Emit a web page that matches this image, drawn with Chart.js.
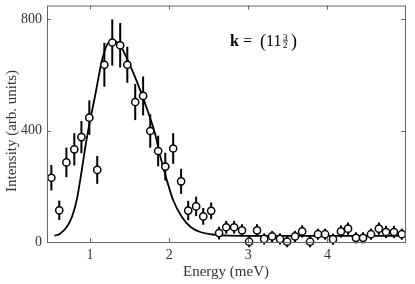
<!DOCTYPE html>
<html>
<head>
<meta charset="utf-8">
<script src="https://cdn.jsdelivr.net/npm/chart.js@4/dist/chart.umd.min.js"></script>
<style>
  html, body { margin: 0; padding: 0; background: #fff; }
  #wrap { width: 415px; height: 284px; }
</style>
</head>
<body>
<div id="wrap"><canvas id="chart" width="415" height="284"></canvas></div>
<script>
// ── 측정점 (에너지, 강도, 오차) ─────────────────────────────
const ENERGY = [0.51, 0.61, 0.70, 0.80, 0.89, 0.99, 1.09, 1.18, 1.28, 1.38,
  1.47, 1.57, 1.67, 1.76, 1.86, 1.95, 2.05, 2.15, 2.24, 2.34,
  2.43, 2.53, 2.63, 2.72, 2.82, 2.92, 3.01, 3.11, 3.20, 3.30,
  3.40, 3.49, 3.59, 3.68, 3.78, 3.88, 3.97, 4.07, 4.17, 4.26,
  4.36, 4.45, 4.55, 4.65, 4.74, 4.84, 4.94];
const INTENSITY = [231, 114, 286, 333, 377, 447, 259, 637, 717, 707,
  637, 503, 525, 399, 327, 271, 336, 218, 113, 128,
  92, 112, 32, 53, 53, 42, 1, 42, 11, 20,
  11, 1, 20, 38, 1, 28, 28, 10, 38, 48,
  15, 15, 28, 48, 36, 36, 28];
const ERROR = [46, 35, 53, 58, 58, 62, 50, 79, 83, 80,
  65, 65, 70, 60, 55, 50, 55, 45, 35, 35,
  30, 30, 23, 23, 23, 22, 20, 22, 20, 20,
  20, 20, 20, 22, 20, 20, 20, 20, 22, 22,
  20, 20, 20, 22, 22, 22, 20];

// ── 피팅 곡선 ──────────────────────────────────────────────
const FIT_E = [0.55, 0.62, 0.70, 0.77, 0.83, 0.89, 0.95, 1.00, 1.06, 1.15,
  1.21, 1.27, 1.33, 1.38, 1.485, 1.61, 1.74, 1.82, 1.89, 1.97,
  2.05, 2.16, 2.27, 2.40, 2.55, 2.75, 3.20, 4.97];
const FIT_I = [22, 30, 52, 90, 150, 250, 360, 437, 521, 653,
  707, 722, 720, 707, 647, 563, 461, 390, 305, 222,
  150, 90, 54, 35, 27, 23, 22, 22];

const X_TICKS = [1, 2, 3, 4];
const Y_TICKS = [0, 400, 800];

const SERIF = '"Liberation Serif", "Times New Roman", serif';
const TEXT = "#333";

// 오차막대: 점 데이터셋 바로 앞에 그림 (곡선 위, 점 아래)
const errorBars = {
  id: "errorBars",
  beforeDatasetDraw(chart, args) {
    if (args.index !== 1) return;
    const { ctx, scales: { x, y } } = chart;
    ctx.save();
    ctx.strokeStyle = "#000";
    ctx.lineWidth = 2;
    ENERGY.forEach((e, i) => {
      const px = x.getPixelForValue(e);
      ctx.beginPath();
      ctx.moveTo(px, y.getPixelForValue(INTENSITY[i] - ERROR[i]));
      ctx.lineTo(px, y.getPixelForValue(INTENSITY[i] + ERROR[i]));
      ctx.stroke();
    });
    ctx.restore();
  },
};

// 테두리 + 안쪽 눈금 (네 변 모두)
const frame = {
  id: "frame",
  afterDraw(chart) {
    const { ctx, chartArea: a, scales: { x, y } } = chart;
    ctx.save();
    ctx.strokeStyle = "#666";
    ctx.lineWidth = 1;
    ctx.strokeRect(a.left + 0.5, a.top + 0.5, a.right - a.left, a.bottom - a.top);
    ctx.beginPath();
    X_TICKS.forEach((v) => {
      const px = Math.round(x.getPixelForValue(v)) + 0.5;
      ctx.moveTo(px, a.bottom); ctx.lineTo(px, a.bottom - 4);
      ctx.moveTo(px, a.top); ctx.lineTo(px, a.top + 4);
    });
    Y_TICKS.forEach((v) => {
      const py = Math.round(y.getPixelForValue(v)) + 0.5;
      ctx.moveTo(a.left, py); ctx.lineTo(a.left + 4, py);
      ctx.moveTo(a.right, py); ctx.lineTo(a.right - 4, py);
    });
    ctx.stroke();
    ctx.restore();
  },
};

// k = (11 3/2) 라벨 + 세로축 제목 (원본처럼 약간 아래쪽)
const label = {
  id: "label",
  afterDraw(chart) {
    const { ctx, chartArea: a } = chart;
    const x0 = a.left + 183, base = a.top + 40;
    ctx.save();
    ctx.fillStyle = "#000";
    ctx.textBaseline = "alphabetic";
    ctx.font = "bold 16px " + SERIF;
    ctx.fillText("k", x0, base);
    ctx.font = "16px " + SERIF;
    ctx.fillText("=", x0 + 13, base);
    ctx.font = "18px " + SERIF;
    ctx.fillText("(", x0 + 30, base + 1);
    ctx.font = "16px " + SERIF;
    ctx.fillText("11", x0 + 36, base);
    ctx.font = "9px " + SERIF;
    ctx.fillText("3", x0 + 53, base - 6);
    ctx.fillText("2", x0 + 53, base + 2);
    ctx.fillRect(x0 + 53, base - 5, 5, 0.8);
    ctx.font = "18px " + SERIF;
    ctx.fillText(")", x0 + 61, base + 1);

    ctx.fillStyle = TEXT;
    ctx.font = "15px " + SERIF;
    ctx.textAlign = "center";
    ctx.textBaseline = "middle";
    ctx.translate(12, 131);
    ctx.rotate(-Math.PI / 2);
    ctx.fillText("Intensity (arb. units)", 0, 0);
    ctx.restore();
  },
};

new Chart(document.getElementById("chart"), {
  data: {
    datasets: [
      {
        type: "line",
        data: FIT_E.map((e, i) => ({ x: e, y: FIT_I[i] })),
        borderColor: "#000",
        borderWidth: 1.8,
        pointRadius: 0,
        cubicInterpolationMode: "monotone",
        fill: false,
        order: 2,
      },
      {
        type: "scatter",
        data: ENERGY.map((e, i) => ({ x: e, y: INTENSITY[i] })),
        pointRadius: 3.6,
        pointBackgroundColor: "#fff",
        pointBorderColor: "#000",
        pointBorderWidth: 1.5,
        clip: false,
        order: 1,
      },
    ],
  },
  options: {
    responsive: false,
    animation: false,
    devicePixelRatio: 1,
    layout: { padding: { top: 5, right: 10, left: 0, bottom: 0 } },
    plugins: { legend: { display: false }, tooltip: { enabled: false } },
    scales: {
      x: {
        type: "linear",
        min: 0.455,
        max: 4.98,
        afterBuildTicks: (s) => { s.ticks = X_TICKS.map((v) => ({ value: v })); },
        afterFit: (s) => { s.height = 42; s.paddingLeft = 0; s.paddingRight = 0; },
        grid: { display: false, drawTicks: false, tickLength: 0 },
        border: { display: false },
        ticks: { color: TEXT, font: { family: SERIF, size: 14 }, padding: 5 },
        title: { display: true, text: "Energy (meV)", color: TEXT,
          font: { family: SERIF, size: 15 }, padding: { top: 0, bottom: 3 } },
      },
      y: {
        type: "linear",
        min: 0,
        max: 850,
        afterBuildTicks: (s) => { s.ticks = Y_TICKS.map((v) => ({ value: v })); },
        afterFit: (s) => { s.width = 47; s.paddingTop = 0; s.paddingBottom = 0; },
        grid: { display: false, drawTicks: false, tickLength: 0 },
        border: { display: false },
        ticks: { color: TEXT, font: { family: SERIF, size: 14 }, padding: 5 },
        title: { display: false },
      },
    },
  },
  plugins: [errorBars, frame, label],
});
</script>
</body>
</html>
